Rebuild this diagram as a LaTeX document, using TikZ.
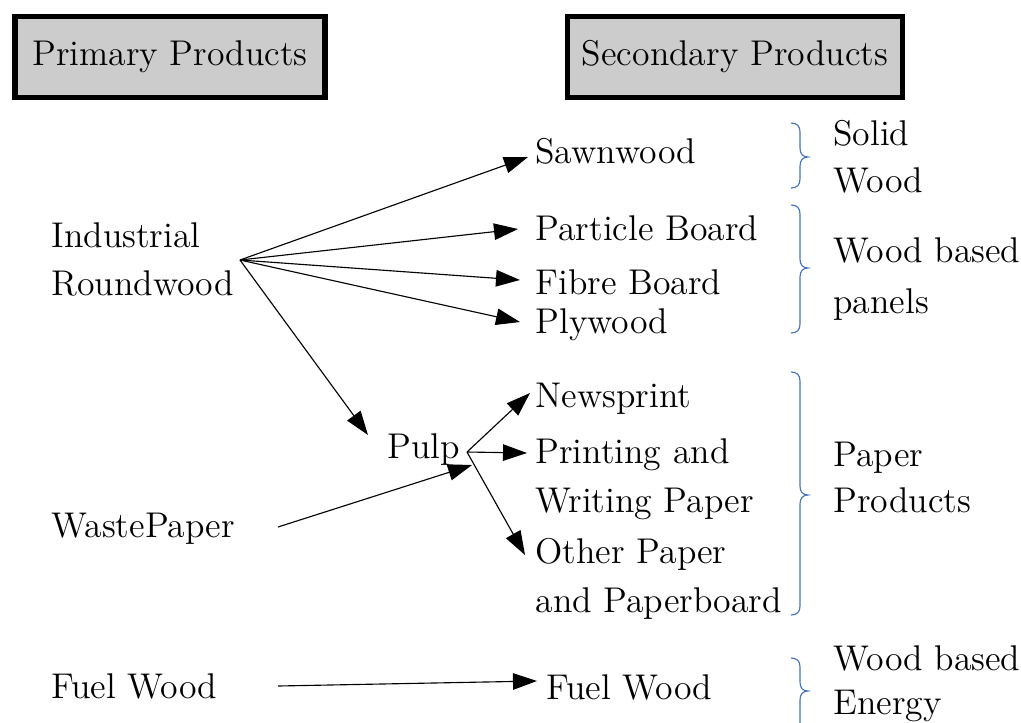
\documentclass[tikz,border=0pt]{standalone}
\usetikzlibrary{arrows.meta,calc}
\definecolor{bracecol}{HTML}{4472C4}
\definecolor{headfill}{HTML}{CCCCCC}
\newcommand{\mybrace}[3]{%
  \draw[bracecol,line width=0.45pt]
    (791,#1) .. controls (797,#1) and (800,#1+3) .. (800,#1+9)
    -- (800,#2-9) .. controls (800,#2-3) and (803,#2) .. (808,#2)
    .. controls (803,#2) and (800,#2+3) .. (800,#2+9)
    -- (800,#3-9) .. controls (800,#3-3) and (797,#3) .. (791,#3);}
\begin{document}
\begin{tikzpicture}[x=0.4pt,y=-0.4pt,
  lbl/.style={anchor=base west,inner sep=0pt,font=\fontsize{14.3}{17}\selectfont},
  head/.style={draw,line width=2.2pt,fill=headfill,minimum height=32.5pt,inner sep=0pt,font=\fontsize{14.3}{17}\selectfont},
  arr/.style={-{Triangle[length=9.6pt,width=6.6pt]},line width=0.45pt}]
\useasboundingbox (0,0) rectangle (1021,722);
% headings
\node[head,minimum width=124pt] (prim) at (170,57) {Primary Products};
\node[head,minimum width=134pt] (sec) at (735,57) {Secondary Products};
% left column
\node[lbl] (ind) at (51,247) {Industrial};
\node[lbl] (rw) at (51,295) {Roundwood};
\node[lbl] (waste) at (51,537) {WastePaper};
\node[lbl] (fuelL) at (51,698) {Fuel Wood};
% pulp
\node[lbl] (pulp) at (387,458) {Pulp};
% middle column
\node[lbl] (saw) at (535,163) {Sawnwood};
\node[lbl] (pb) at (535,240) {Particle Board};
\node[lbl] (fb) at (535,294) {Fibre Board};
\node[lbl] (ply) at (535,333) {Plywood};
\node[lbl] (news) at (535,407) {Newsprint};
\node[lbl] (print) at (535,463) {Printing and};
\node[lbl] (write) at (535,512) {Writing Paper};
\node[lbl] (other) at (535,563) {Other Paper};
\node[lbl] (board) at (535,612) {and Paperboard};
\node[lbl] (fuelR) at (546,699) {Fuel Wood};
% right column
\node[lbl] (solid) at (833,145) {Solid};
\node[lbl] (wood1) at (833,192) {Wood};
\node[lbl] (wbp) at (833,262) {Wood based};
\node[lbl] (panels) at (833,313) {panels};
\node[lbl] (paper) at (833,466) {Paper};
\node[lbl] (prod) at (833,512) {Products};
\node[lbl] (wbe) at (833,670) {Wood based};
\node[lbl] (energy) at (833,714) {Energy};
% junctions
\coordinate (ir) at (240,260);
\coordinate (pj) at (467,452);
\coordinate (wstart) at ($(waste.base west)+(227,-10)$);
\coordinate (fstart) at ($(fuelL.base west)+(227,-12)$);
% arrows
\draw[arr] (ir) -- ($(saw.base west)+(-7,-6)$);
\draw[arr] (ir) -- ($(pb.base west)+(-17,-11)$);
\draw[arr] (ir) -- ($(fb.base west)+(-15,-14)$);
\draw[arr] (ir) -- ($(ply.base west)+(-15,-11)$);
\draw[arr] (ir) -- ($(pulp.base west)+(-19,-23)$);
\draw[arr] (pj) -- ($(news.base west)+(-5,-14)$);
\draw[arr] (pj) -- ($(print.base west)+(-8,-10)$);
\draw[arr] (pj) -- ($(other.base west)+(-10,-8)$);
\draw[arr] (wstart) -- ($(pj)+(5,13)$);
\draw[arr] (fstart) -- ($(fuelR.base west)+(-9,-18)$);
% braces
\mybrace{123}{157}{188}
\mybrace{205}{268}{333}
\mybrace{372}{495}{615}
\mybrace{658}{691}{760}
\end{tikzpicture}
\end{document}
